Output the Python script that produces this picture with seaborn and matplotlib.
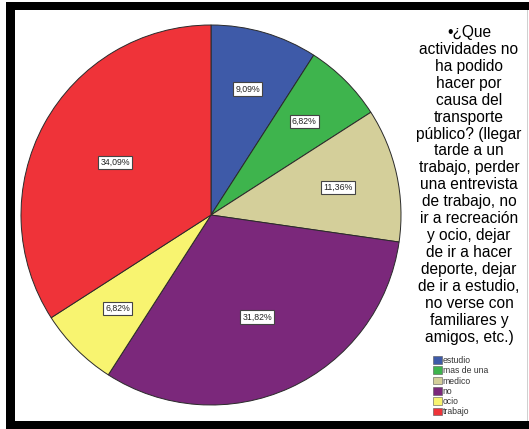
import numpy as np
import matplotlib
matplotlib.use("Agg")
import matplotlib.pyplot as plt
from matplotlib.patches import Rectangle, Patch
import seaborn as sns

# Survey answers: activities missed because of public transport
categories = ["estudio", "mas de una", "medico", "no", "ocio", "trabajo"]
counts = [4, 3, 5, 14, 3, 15]
pct_labels = ["9,09%", "6,82%", "11,36%", "31,82%", "6,82%", "34,09%"]
slice_colors = ["#3e5aa8", "#3eb44d", "#d4cf9a", "#7b287b", "#f8f470", "#ef3339"]

question = ("\u2022\u00bfQue\nactividades no\nha podido\nhacer por\ncausa del\ntransporte\n"
            "p\u00fablico? (llegar\ntarde a un\ntrabajo, perder\nuna entrevista\nde trabajo, no\n"
            "ir a recreaci\u00f3n\ny ocio, dejar\nde ir a hacer\ndeporte, dejar\nde ir a estudio,\n"
            "no verse con\nfamiliares y\namigos, etc.)")

sns.set_theme(style="white")
plt.rcParams["font.family"] = ["Liberation Sans", "DejaVu Sans"]
palette = sns.color_palette(slice_colors)

W, H = 529, 429
fig = plt.figure(figsize=(W / 100, H / 100), dpi=100)
fig.patch.set_facecolor("white")

# Pie area: centre (211, 215) px, radius 190 px
cx, cy, r = 211, 215, 190
ax = fig.add_axes([(cx - r) / W, (H - cy - r) / H, 2 * r / W, 2 * r / H])
wedges, _ = ax.pie(counts, colors=palette, startangle=90, counterclock=False,
                   radius=1.0,
                   wedgeprops=dict(edgecolor="#2a2a2a", linewidth=0.7))
ax.set_xlim(-1, 1)
ax.set_ylim(-1, 1)
ax.set_aspect("equal")
ax.axis("off")

# Percentage boxes near the centroid of each wedge
for w, lab in zip(wedges, pct_labels):
    half = np.deg2rad(w.theta2 - w.theta1) / 2
    mid = np.deg2rad((w.theta1 + w.theta2) / 2)
    d = 1.05 * (2 / 3) * np.sin(half) / half
    ax.text(d * np.cos(mid), d * np.sin(mid), lab, ha="center", va="center",
            fontsize=6.3, color="#222222",
            bbox=dict(boxstyle="square,pad=0.25", facecolor="white",
                      edgecolor="#444444", linewidth=0.8))

# Question text on the right
fig.text(469 / W, 1 - 25 / H, question, ha="center", va="top",
         fontsize=11.2, linespacing=1.16, color="black")

# Legend
handles = [Patch(facecolor=c, edgecolor="#555555", linewidth=0.4) for c in palette]
leg = fig.legend(handles, categories, loc="upper left",
                 bbox_to_anchor=(433 / W, 1 - 356 / H), frameon=False,
                 fontsize=6.2, handlelength=1.0, handleheight=1.0,
                 handletextpad=0.15, labelspacing=0.15, borderpad=0.0,
                 borderaxespad=0.0)
for t in leg.get_texts():
    t.set_color("#333333")

# Black frame on the left, top and bottom
def band(x0, y0, x1, y1, color="black"):
    fig.patches.append(Rectangle((x0 / W, 1 - y1 / H), (x1 - x0) / W, (y1 - y0) / H,
                                 transform=fig.transFigure, facecolor=color,
                                 edgecolor="none", zorder=10))

band(6, 2, W, 10)
band(6, 2, 15, H)
band(6, 421, W, H)
band(527, 10, 528, 421, color="#d0d0d0")

fig.savefig("out.png", dpi=100, facecolor="white")
